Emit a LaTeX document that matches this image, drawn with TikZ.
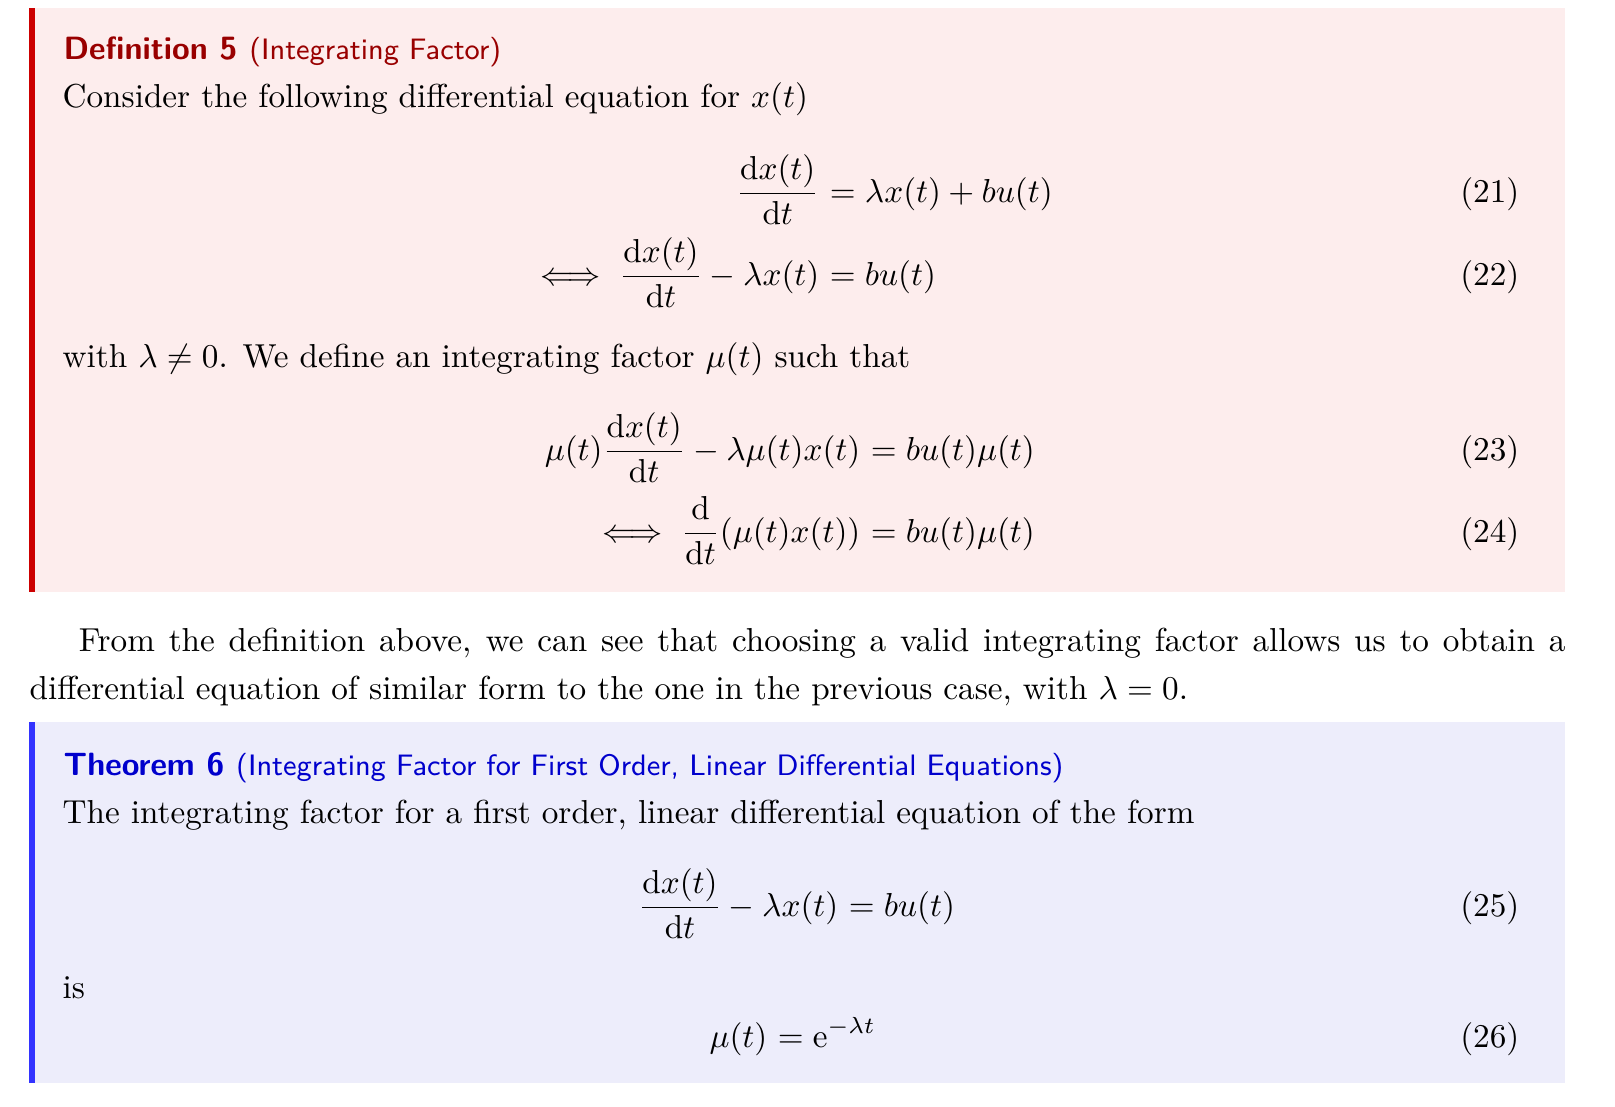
\documentclass[tikz,border=0pt]{standalone}
\usepackage{amsmath}
\usepackage{tikz}

\definecolor{deffill}{HTML}{FDEDED}
\definecolor{defbar}{HTML}{CC0000}
\definecolor{deftitle}{HTML}{990000}
\definecolor{thmfill}{HTML}{EDEDFB}
\definecolor{thmbar}{HTML}{3333FF}
\definecolor{thmtitle}{HTML}{0000CC}

\begin{document}
\begin{tikzpicture}[x=0.3012pt,y=-0.3012pt]
       \tikzstyle{txt} = [anchor=base west, inner sep=0pt]
       \tikzstyle{head} = [anchor=base west, inner sep=0pt, font=\sffamily]
       \tikzstyle{lhs} = [anchor=base east, inner sep=0pt]
       \tikzstyle{rhs} = [anchor=base west, inner sep=0pt]
       \tikzstyle{eqno} = [anchor=base east, inner sep=0pt]
       \useasboundingbox (0,0) rectangle (1615,1106);

       % definition box
       \fill[deffill] (29,8) rectangle (1565,592);
       \fill[defbar] (29,8) rectangle (35,592);
       \node (def-title) [head, text=deftitle] at (63,59) {\fontsize{9.7}{11}\selectfont\bfseries Definition 5 \fontsize{8.9}{11}\selectfont\mdseries(Integrating Factor)};
       \node (def-text-A) [txt] at (62,107) {Consider the following differential equation for $x(t)$};
       \coordinate (eq-21) at (820,202);
       \node (eq-21-l) [lhs] at (eq-21) {$\displaystyle \frac{\mathrm{d}x(t)}{\mathrm{d}t}$};
       \node (eq-21-r) [rhs] at (eq-21) {$\displaystyle {}= \lambda x(t) + bu(t)$};
       \node (no-21) [eqno] at (1520,202) {(21)};
       \coordinate (eq-22) at (820,285);
       \node (eq-22-l) [lhs] at (eq-22) {$\displaystyle \iff \frac{\mathrm{d}x(t)}{\mathrm{d}t} - \lambda x(t)$};
       \node (eq-22-r) [rhs] at (eq-22) {$\displaystyle {}= bu(t)$};
       \node (no-22) [eqno] at (1520,285) {(22)};
       \node (def-text-B) [txt] at (62,367) {with $\lambda \neq 0$. We define an integrating factor $\mu(t)$ such that};
       \coordinate (eq-23) at (861,460);
       \node (eq-23-l) [lhs] at (eq-23) {$\displaystyle \mu(t)\frac{\mathrm{d}x(t)}{\mathrm{d}t} - \lambda\mu(t)x(t)$};
       \node (eq-23-r) [rhs] at (eq-23) {$\displaystyle {}= bu(t)\mu(t)$};
       \node (no-23) [eqno] at (1520,460) {(23)};
       \coordinate (eq-24) at (861,542);
       \node (eq-24-l) [lhs] at (eq-24) {$\displaystyle \iff \frac{\mathrm{d}}{\mathrm{d}t}(\mu(t)x(t))$};
       \node (eq-24-r) [rhs] at (eq-24) {$\displaystyle {}= bu(t)\mu(t)$};
       \node (no-24) [eqno] at (1520,542) {(24)};

       % paragraph between the boxes
       \node (para) [txt, text width=462.6pt, align=justify, font=\fontsize{10}{14.46}\selectfont] at (29,651)
         {\hspace*{14.8pt}From the definition above, we can see that choosing a valid integrating factor allows us to obtain a\linebreak
          differential equation of similar form to the one in the previous case, with $\lambda = 0$.};

       % theorem box
       \fill[thmfill] (29,722) rectangle (1565,1083);
       \fill[thmbar] (29,722) rectangle (35,1083);
       \node (thm-title) [head, text=thmtitle] at (63,775) {\fontsize{9.7}{11}\selectfont\bfseries Theorem 6 \fontsize{8.9}{11}\selectfont\mdseries(Integrating Factor for First Order, Linear Differential Equations)};
       \node (thm-text-A) [txt] at (62,823) {The integrating factor for a first order, linear differential equation of the form};
       \coordinate (eq-25) at (839,916);
       \node (eq-25-l) [lhs] at (eq-25) {$\displaystyle \frac{\mathrm{d}x(t)}{\mathrm{d}t} - \lambda x(t)$};
       \node (eq-25-r) [rhs] at (eq-25) {$\displaystyle {}= bu(t)$};
       \node (no-25) [eqno] at (1520,916) {(25)};
       \node (thm-text-B) [txt] at (62,998) {is};
       \coordinate (eq-26) at (768,1047);
       \node (eq-26-l) [lhs] at (eq-26) {$\displaystyle \mu(t)$};
       \node (eq-26-r) [rhs] at (eq-26) {$\displaystyle {}= \mathrm{e}^{-\lambda t}$};
       \node (no-26) [eqno] at (1520,1047) {(26)};
\end{tikzpicture}
\end{document}
